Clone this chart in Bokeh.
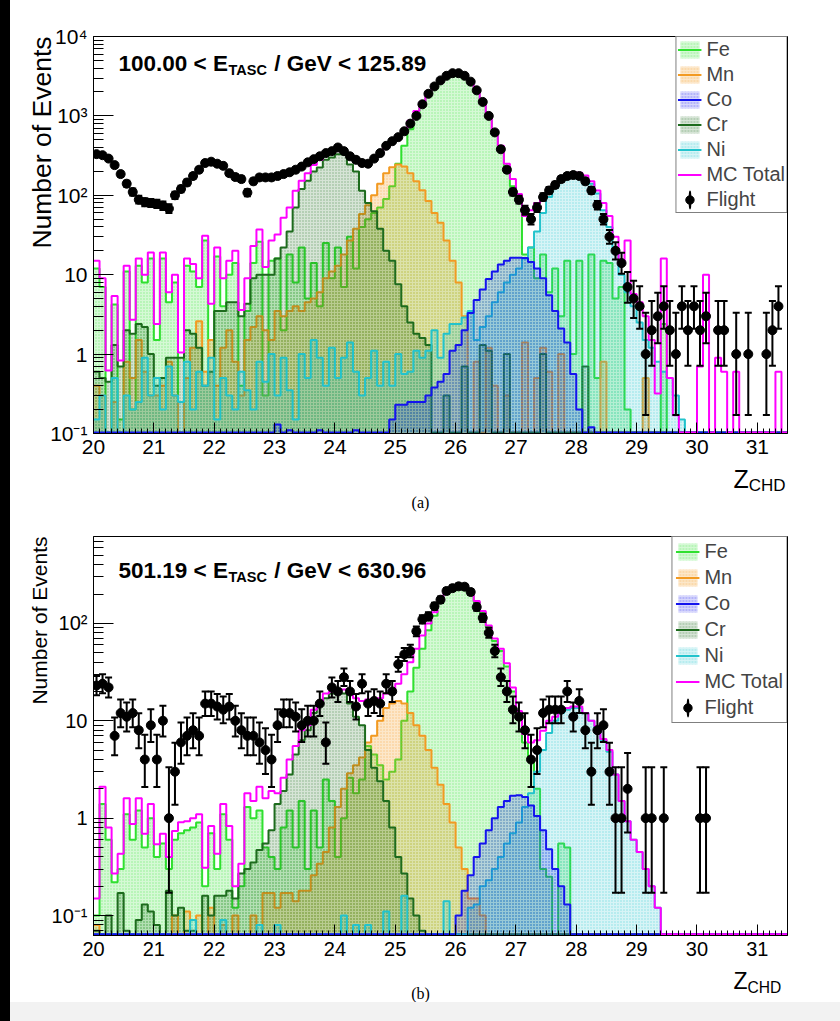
import numpy as np
from bokeh.plotting import figure
from bokeh.models import (Range1d, FixedTicker, CustomJSTickFormatter, Legend,
                          LegendItem, Label, Div, Title)
from bokeh.layouts import row, column
from bokeh.embed import file_html
from bokeh.resources import INLINE

# ---------------- binning (Z_CHD) ----------------
Z_MIN, Z_MAX, N_BINS = 20.0, 31.5, 115
X_TICKS = list(range(20, 32))

# ---------------- panel (a): 100.00 < E_TASC/GeV < 125.89 ----------------
FE_A = [12, 7, 0.1, 4.2, 0.15, 11, 0.2, 13, 8, 16,
        1.5, 16, 4.5, 8, 0.1, 13, 11, 7, 27, 1.5,
        17, 4, 10, 14, 0.4, 3.5, 14, 26, 0.3, 15,
        16, 2, 18, 8, 22, 5, 14, 4, 25, 9,
        22, 7, 30, 12, 40, 50, 60, 70, 90, 130,
        250, 420, 680, 960, 1300, 1800, 2300, 2750, 3150, 3400,
        3400, 3200, 2700, 2050, 1450, 960, 620, 380, 220, 130,
        90, 18, 22, 9, 18, 6, 12, 3, 15, 1,
        15, 0, 18, 0.5, 15, 14, 5, 7, 0.2, 0,
        0, 0, 0, 0, 2.4, 0, 0, 0, 0, 0,
        0, 0, 0, 0, 0, 0, 0, 0, 0, 0,
        0, 0, 0, 0, 0]
MN_A = [0.4, 0.3, 0.1, 0.25, 0.1, 0.8, 0.5, 1.5, 0.6, 0.3,
        0.3, 0.4, 0.8, 0.3, 0.1, 0.5, 1.2, 2.6, 0.6, 1.5,
        0.4, 1.2, 2, 0.8, 0.3, 1.5, 2.2, 3, 2, 1.5,
        3.5, 3, 3.5, 4, 3.5, 4.5, 5, 6, 9, 11,
        13, 18, 27, 38, 58, 75, 100, 140, 190, 225,
        245, 230, 190, 150, 116, 85, 60, 45, 27, 15,
        8, 3, 0, 0.8, 0, 1.2, 0.4, 0, 0.3, 0,
        0, 1.4, 0, 0.5, 1.2, 0.6, 0, 1.0, 0, 0,
        0, 0, 0, 0, 0.8, 0, 0, 0, 0, 0,
        0, 0.5, 0, 0, 0, 0, 0, 0, 0, 0,
        0, 0, 0, 0, 0, 0, 0, 0, 0, 0,
        0, 0, 0, 0, 0]
CO_A = [0, 0, 0, 0, 0, 0, 0, 0, 0, 0,
        0, 0, 0, 0, 0, 0, 0, 0, 0, 0,
        0, 0, 0, 0, 0, 0, 0, 0, 0, 0,
        0.13, 0, 0.11, 0, 0, 0, 0, 0.11, 0, 0,
        0, 0, 0, 0.11, 0.1, 0, 0, 0, 0, 0.15,
        0.23, 0.23, 0.25, 0.25, 0.25, 0.3, 0.38, 0.45, 0.56, 1.1,
        1.3, 2.0, 3.3, 4.8, 6.5, 8.8, 11, 13.4, 15, 16.4,
        16.4, 16.2, 14.5, 12, 9, 5.5, 3.5, 2.1, 1.4, 0.56,
        0.2, 0, 0.12, 0, 0, 0, 0, 0, 0, 0,
        0, 0, 0, 0, 0, 0, 0, 0, 0, 0,
        0, 0, 0, 0, 0, 0, 0, 0, 0, 0,
        0, 0, 0, 0, 0]
CR_A = [0.6, 0.5, 0.45, 1.3, 0.7, 2, 1.8, 2.4, 2.2, 1.0,
        0.4, 0.5, 0.9, 0.9, 0.9, 2, 1.8, 1.2, 0.4, 0.6,
        3.5, 3.5, 4.5, 4.5, 3, 4.3, 9, 10, 10, 10,
        16, 22, 35, 70, 120, 152, 200, 224, 280, 300,
        330, 330, 245, 200, 114, 80, 63, 38, 20, 15,
        7.6, 4, 2.5, 1.8, 1.6, 1.3, 0.1, 0, 0.3, 0,
        0, 0.7, 0, 0, 1.3, 1.1, 0, 0, 1.0, 0,
        0, 0, 0, 0, 1.0, 0, 0, 0, 0, 0,
        0, 0.7, 0, 0, 0, 0, 0, 0, 0, 0,
        0, 0, 0, 0, 0, 0, 0, 0, 0, 0,
        0, 0, 0, 0, 0, 0, 0, 0, 0, 0,
        0, 0, 0, 0, 0]
NI_A = [0.15, 0.3, 0.1, 0.5, 0.1, 0.3, 0.2, 0.25, 0.9, 0.3,
        0.5, 0.2, 0.7, 0.3, 0.25, 0.8, 0.2, 0.6, 0.4, 0.9,
        0.15, 0.5, 0.3, 0.2, 0.6, 0.35, 0.2, 0.8, 0.45, 1.0,
        0.3, 0.9, 0.35, 0.15, 1.0, 0.5, 1.5, 0.9, 0.4, 1.2,
        0.5, 0.9, 1.4, 0.6, 0.3, 0.5, 1.1, 0.4, 0.8, 0.4,
        1.0, 0.56, 0.6, 1.1, 0.9, 1.1, 2, 0.9, 1.8, 2.4,
        2.4, 2.9, 3.5, 1.5, 2.2, 3, 4.5, 6, 8, 10,
        12, 16, 22, 35, 60, 95, 125, 150, 165, 175,
        178, 165, 140, 105, 65, 40, 20, 10, 6, 4,
        2.5, 1.5, 1.2, 0.8, 0.6, 0.5, 0.3, 0.15, 0, 0,
        0, 0, 0, 0, 0, 0, 0, 0, 0, 0,
        0, 0, 0, 0, 0]
MC_A = [15, 9, 0.62, 5.4, 0.83, 13, 2.7, 16, 10, 19,
        2.4, 19, 6, 10, 1.05, 16, 13.6, 9, 31, 4.3,
        22, 9, 15, 20, 3.6, 9, 23, 37, 12.5, 27,
        32, 52, 70, 114, 152, 190, 240, 280, 320, 350,
        370, 360, 320, 290, 265, 265, 290, 330, 400, 480,
        560, 680, 870, 1150, 1500, 1950, 2400, 2850, 3250, 3450,
        3450, 3250, 2750, 2100, 1500, 1000, 650, 420, 250, 160,
        104, 55, 65, 80, 100, 120, 145, 165, 180, 190,
        192, 178, 150, 115, 80, 55, 30, 14, 27, 5.7,
        4.5, 3, 1.5, 0.32, 16, 0.5, 0.17, 0, 0, 0,
        0.7, 10, 0, 0.9, 0.6, 0, 0.6, 0, 0, 0,
        0, 0, 0, 0.6, 0]
FLIGHT_A = [330, 320, 290, 240, 185, 140, 110, 88, 82, 80,
            78, 74, 68, 100, 120, 145, 175, 210, 255, 265,
            250, 235, 190, 170, 160, 108, 150, 168, 168, 168,
            175, 185, 195, 210, 230, 260, 285, 310, 340, 360,
            400, 360, 310, 280, 255, 250, 290, 340, 420, 480,
            540, 640, 800, 1000, 1400, 1900, 2350, 2800, 3200, 3450,
            3450, 3200, 2700, 2100, 1500, 1000, 620, 380, 210, 110,
            88, 65, 50, 70, 95, 115, 135, 160, 175, 180,
            175, 150, 115, 75, 50, 30, 20, 14, 7, 5,
            4, 1, 2, 3, 4, 2, 1, 4, 2, 4,
            2, 3, 0, 2, 2, 0, 1, 0, 1, 0,
            0, 1, 2, 4, 0]

# ---------------- panel (b): 501.19 < E_TASC/GeV < 630.96 ----------------
FE_B = [0.1, 1.4, 0.6, 0.22, 0.3, 1.1, 0.6, 1.2, 0.5, 1.0,
        0.4, 0.55, 0.3, 0.6, 0.7, 0.75, 0.8, 0.9, 0.2, 0.7,
        0.3, 1.1, 0.6, 0.12, 0.2, 1.3, 1.0, 1.2, 0.5, 0.4,
        0.3, 0.8, 1.2, 0.5, 1.5, 0.3, 1.2, 0.5, 2.5, 1.5,
        0.4, 1.0, 2.6, 1.8, 2.5, 5.5, 4.5, 3.5, 2.5, 3,
        4, 10, 20, 35, 55, 85, 120, 165, 205, 232,
        242, 242, 212, 166, 130, 92, 66, 52, 36, 20,
        11, 6, 4, 2, 0.3, 0.25, 0, 0.55, 0.5, 0,
        0, 0, 0, 0, 0, 0, 0, 0, 0, 0,
        0, 0, 0, 0, 0, 0, 0, 0, 0, 0,
        0, 0, 0, 0, 0, 0, 0, 0, 0, 0,
        0, 0, 0, 0, 0]
MN_B = [0.08, 0, 0, 0, 0, 0, 0, 0, 0, 0,
        0, 0, 0, 0.1, 0, 0.11, 0, 0.1, 0, 0.12,
        0, 0.08, 0, 0.1, 0, 0, 0.1, 0, 0.17, 0.17,
        0.12, 0.17, 0.17, 0.14, 0.18, 0.18, 0.26, 0.34, 0.45, 0.8,
        1.3, 2.0, 2.9, 3.5, 4.2, 6, 7, 10, 13.5, 15,
        16, 15, 12, 9, 7, 5, 3.3, 2.2, 1.4, 0.9,
        0.5, 0.3, 0.15, 0.15, 0.1, 0, 0, 0, 0, 0,
        0, 0, 0, 0, 0, 0, 0, 0, 0, 0,
        0, 0, 0, 0, 0, 0, 0, 0, 0, 0,
        0, 0, 0, 0, 0, 0, 0, 0, 0, 0,
        0, 0, 0, 0, 0, 0, 0, 0, 0, 0,
        0, 0, 0, 0, 0]
CO_B = [0, 0, 0, 0, 0, 0, 0, 0, 0, 0,
        0, 0, 0, 0, 0, 0, 0, 0, 0, 0,
        0, 0, 0, 0, 0, 0, 0, 0, 0, 0,
        0, 0, 0, 0, 0, 0, 0, 0, 0, 0,
        0, 0, 0, 0, 0, 0, 0, 0, 0, 0,
        0, 0, 0, 0, 0, 0, 0, 0, 0, 0,
        0.1, 0.18, 0.26, 0.4, 0.55, 0.75, 1.0, 1.3, 1.5, 1.7,
        1.72, 1.65, 1.35, 1.05, 0.75, 0.48, 0.3, 0.2, 0.13, 0,
        0, 0, 0, 0, 0, 0, 0, 0, 0, 0,
        0, 0, 0, 0, 0, 0, 0, 0, 0, 0,
        0, 0, 0, 0, 0, 0, 0, 0, 0, 0,
        0, 0, 0, 0, 0]
CR_B = [0.07, 0, 0.1, 0, 0.17, 0.07, 0, 0.09, 0.13, 0.11,
        0.08, 0, 0.18, 0.1, 0.12, 0.07, 0.07, 0, 0.16, 0.1,
        0.16, 0.16, 0.18, 0.15, 0.27, 0.3, 0.35, 0.47, 0.55, 0.75,
        1.4, 1.9, 2.8, 4.5, 6.3, 8, 12, 15, 17, 19,
        20, 19, 15, 11, 9, 5, 3.3, 2.4, 1.5, 0.8,
        0.4, 0.27, 0.15, 0.1, 0.07, 0, 0, 0, 0, 0,
        0, 0, 0, 0, 0, 0, 0, 0, 0, 0,
        0, 0, 0, 0, 0, 0, 0, 0, 0, 0,
        0, 0, 0, 0, 0, 0, 0, 0, 0, 0,
        0, 0, 0, 0, 0, 0, 0, 0, 0, 0,
        0, 0, 0, 0, 0, 0, 0, 0, 0, 0,
        0, 0, 0, 0, 0]
NI_B = [0, 0, 0, 0, 0, 0, 0, 0, 0, 0,
        0, 0, 0, 0, 0, 0, 0.09, 0, 0, 0,
        0, 0.09, 0, 0, 0, 0, 0, 0.08, 0, 0,
        0.08, 0, 0, 0, 0, 0, 0, 0, 0, 0,
        0, 0.1, 0, 0.08, 0, 0.08, 0, 0, 0.11, 0,
        0, 0.16, 0, 0, 0, 0, 0, 0, 0.14, 0,
        0, 0, 0.12, 0.13, 0.2, 0.23, 0.3, 0.4, 0.55, 0.7,
        0.9, 1.3, 1.8, 3, 5, 7.5, 10, 12, 13, 13.5,
        13.5, 12, 10, 8.5, 6.3, 4.8, 2.8, 1.5, 0.93, 0.6,
        0.45, 0.3, 0.2, 0.12, 0, 0, 0, 0, 0, 0,
        0, 0, 0, 0, 0, 0, 0, 0, 0, 0,
        0, 0, 0, 0, 0]
MC_B = [0.15, 2.1, 0.8, 0.27, 0.43, 1.6, 0.87, 1.6, 0.69, 1.4,
        0.54, 0.69, 0.4, 0.74, 0.91, 0.93, 1.0, 1.1, 0.31, 0.83,
        0.43, 1.4, 0.83, 0.2, 0.34, 1.8, 1.5, 2.1, 1.6, 1.9,
        1.8, 2.6, 4, 5.5, 8, 9, 13, 15.5, 19, 20,
        21, 21, 19, 17, 16, 16.5, 16, 17, 19, 21,
        24, 30, 40, 55, 75, 100, 130, 170, 210, 235,
        245, 245, 215, 170, 134, 95, 70, 55, 39, 22,
        12.6, 7.3, 6, 6.3, 7.9, 10, 11, 12.5, 13.5, 14,
        14, 12, 10, 8.8, 6.5, 5, 2.8, 1.5, 0.93, 0.6,
        0.45, 0.3, 0.2, 0.12, 0, 0, 0, 0, 0, 0,
        0, 0, 0, 0, 0, 0, 0, 0, 0, 0,
        0, 0, 0, 0, 0]
FLIGHT_B = [23, 24, 22, 7, 12, 11, 12, 8, 4, 9,
            4, 10, 1, 3, 6, 7, 8, 7, 15, 15,
            14, 13, 14, 10, 8, 7, 7, 6, 5, 4,
            9, 12, 12, 11, 9, 10, 10, 15, 6, 22,
            20, 28, 20, 14, 24, 15, 16, 15, 24, 20,
            38, 48, 52, 83, 110, 118, 150, 175, 215, 230,
            240, 238, 210, 147, 114, 80, 52, 28, 20, 13,
            11, 8, 4, 5, 12, 13, 13, 13, 20, 11,
            16, 8, 3, 8, 9, 3, 1, 1, 2, 0,
            0, 1, 1, 0, 1, 0, 0, 0, 0, 0,
            1, 1, 0, 0, 0, 0, 0, 0, 0, 0,
            0, 0, 0, 0, 0]

SERIES_ORDER = ["Fe", "Mn", "Cr", "Ni", "Co"]          # drawing order
LEGEND_ORDER = ["Fe", "Mn", "Co", "Cr", "Ni"]
STYLE = {
    "Fe": ("#2fe02f", 0.20),
    "Mn": ("#f29a22", 0.24),
    "Co": ("#1414ee", 0.17),
    "Cr": ("#1d6b1d", 0.18),
    "Ni": ("#22c3cc", 0.18),
}
MC_COLOR = "#ff00ff"
FONT = "Liberation Sans"

edges = np.linspace(Z_MIN, Z_MAX, N_BINS + 1)
centers = 0.5 * (edges[:-1] + edges[1:])


def step_xy(vals, floor):
    xs, ys = [], []
    for i, v in enumerate(vals):
        vv = max(v, floor)
        xs += [edges[i], edges[i + 1]]
        ys += [vv, vv]
    return xs, ys


def gehrels(n):
    n = np.asarray(n, float)
    up = n + np.sqrt(n + 0.75) + 1.0
    lo = n * (1 - 1 / (9 * n) - 1 / (3 * np.sqrt(n))) ** 3
    return lo, up


YFMT = CustomJSTickFormatter(code=r"""
const e = Math.round(Math.log10(tick));
if (e == 0) return "1";
if (e == 1) return "10";
const sup = {"-":"\u207B","0":"\u2070","1":"\u00B9","2":"\u00B2","3":"\u00B3",
             "4":"\u2074","5":"\u2075","6":"\u2076","7":"\u2077","8":"\u2078","9":"\u2079"};
return "10" + String(e).split("").map(c => sup[c]).join("");
""")


def label(p, x, y, s, size, bold=False, align="left", baseline="alphabetic",
          angle=0.0, font=FONT, side=None):
    lab = Label(x=x, y=y, x_units="canvas", y_units="canvas", text=s,
                text_font=font, text_font_size=f"{size}px",
                text_font_style="bold" if bold else "normal",
                text_align=align, text_baseline=baseline, angle=angle,
                text_color="black")
    if side is None:
        p.add_layout(lab)
    else:
        p.add_layout(lab, side)


# Arial/Liberation Sans Bold advance widths (per 1000 em) for the energy label
AB = {' ': 278, '/': 278, '.': 278, '<': 584, 'E': 667, 'G': 778, 'e': 556,
      'V': 667, 'T': 611, 'A': 722, 'S': 667, 'C': 722}
for d in "0123456789":
    AB[d] = 556


def twidth(s, size):
    return sum(AB[c] for c in s) * size / 1000.0


def panel(series, mc, flight, ymin, ymax, height, b_top, b_bottom, b_right,
          e_lo, e_hi, title_base, tick_size, ylab_size, ylab_standoff,
          z_base, z_size, tag, tag_y, leg_pad, leg_space):
    p = figure(width=830, height=height, x_range=Range1d(Z_MIN, Z_MAX),
               y_range=Range1d(ymin, ymax), y_axis_type="log",
               output_backend="svg", toolbar_location=None, title=None,
               min_border_left=83, min_border_right=b_right,
               min_border_top=b_top, min_border_bottom=b_bottom)
    p.background_fill_color = "white"
    p.border_fill_color = "white"
    p.outline_line_color = "black"
    p.outline_line_width = 1
    p.xgrid.visible = False
    p.ygrid.visible = False

    floor = ymin * 1.03
    rend = {}
    for name in SERIES_ORDER:
        vals = np.asarray(series[name], float)
        color, alpha = STYLE[name]
        m = vals > floor
        q = p.quad(left=edges[:-1][m], right=edges[1:][m], bottom=ymin * 0.5,
                   top=vals[m], fill_color=color, fill_alpha=alpha,
                   line_color=None, hatch_pattern="dot", hatch_color=color,
                   hatch_alpha=0.45, hatch_scale=3.0, hatch_weight=1.0)
        xs, ys = step_xy(vals, floor)
        ln = p.line(xs, ys, line_color=color, line_width=2)
        rend[name] = [q, ln]
    xs, ys = step_xy(np.asarray(mc, float), floor)
    mc_ln = p.line(xs, ys, line_color=MC_COLOR, line_width=2)

    n = np.asarray(flight, float)
    m = n > 0
    fx, fn = centers[m], n[m]
    lo, up = gehrels(fn)
    p.segment(fx, lo, fx, up, line_color="black", line_width=2)
    p.scatter(np.r_[fx, fx], np.r_[lo, up], marker="dash", size=7,
              line_color="black", line_width=2)
    pts = p.scatter(fx, fn, marker="circle", size=9, fill_color="black",
                    line_color="black")
    # off-frame thin ellipse: only used to draw the vertical error bar in the legend icon
    eb = p.ellipse(x=[20.5], y=[ymin * 1e-4], width=1, height=24,
                   width_units="screen", height_units="screen",
                   fill_color="black", line_color="black", line_width=2)

    items = [LegendItem(label=k, renderers=rend[k]) for k in LEGEND_ORDER]
    items.append(LegendItem(label="MC Total", renderers=[mc_ln]))
    items.append(LegendItem(label="Flight", renderers=[eb, pts]))
    leg = Legend(items=items, location="top_right", margin=0, padding=leg_pad,
                 spacing=leg_space, glyph_width=24, glyph_height=21,
                 label_height=21, label_standoff=5, label_text_font=FONT,
                 label_text_font_size="20px", border_line_color="black",
                 border_line_width=1, background_fill_color="white",
                 background_fill_alpha=1.0)
    p.add_layout(leg)

    # axes
    xa = p.xaxis[0]
    xa.ticker = FixedTicker(ticks=X_TICKS, minor_ticks=[round(v, 2) for v in edges])
    ya = p.yaxis[0]
    emin, emax = int(np.floor(np.log10(ymin))), int(np.ceil(np.log10(ymax)))
    majors = [10.0 ** e for e in range(emin, emax + 1) if ymin <= 10.0 ** e <= ymax]
    minors = [k * 10.0 ** e for e in range(emin, emax + 1) for k in range(2, 10)
              if ymin <= k * 10.0 ** e <= ymax]
    ya.ticker = FixedTicker(ticks=majors, minor_ticks=minors)
    ya.formatter = YFMT
    for ax, tin, tmin in ((xa, 11, 5), (ya, 20, 10)):
        ax.major_tick_in = tin
        ax.major_tick_out = 0
        ax.minor_tick_in = tmin
        ax.minor_tick_out = 0
        ax.major_tick_line_color = "black"
        ax.minor_tick_line_color = "black"
        ax.axis_line_color = "black"
        ax.major_label_text_font = FONT
        ax.major_label_text_font_size = f"{tick_size}px"
        ax.major_label_text_color = "black"
        ax.major_label_standoff = 6

    # y-axis title, top-aligned as in ROOT
    p.add_layout(Title(text="Number of Events", align="right",
                       vertical_align="bottom", text_font=FONT,
                       text_font_size=f"{ylab_size}px", text_font_style="normal",
                       text_color="black", standoff=ylab_standoff, offset=0),
                 "left")

    # energy-bin caption inside the frame
    f_main, f_sub = 22.5, 14.5
    x0 = 108
    s1 = f"{e_lo} < E"
    s3 = f"/ GeV < {e_hi}"
    label(p, x0, title_base, s1, f_main, bold=True)
    x_sub = x0 + twidth(s1, f_main) + 0.5
    label(p, x_sub, title_base + 6, "TASC", f_sub, bold=True)
    x3 = x_sub + twidth("TASC", f_sub) + twidth(" ", f_main)
    label(p, x3, title_base, s3, f_main, bold=True)

    # x-axis title Z_CHD and panel tag, in the border panels (not clipped)
    label(p, 723, z_base, "Z", z_size, side="below")
    label(p, 723 + 0.611 * z_size, z_base + 7, "CHD", round(z_size * 0.68, 1),
          side="right")
    label(p, 410, tag_y, tag, 16, align="center", baseline="middle",
          font="Liberation Serif", side="above")
    return p


fig_a = panel({"Fe": FE_A, "Mn": MN_A, "Co": CO_A, "Cr": CR_A, "Ni": NI_A},
              MC_A, FLIGHT_A, 0.1, 1.0e4, 512, 36, 79, 53,
              "100.00", "125.89", 63, 21, 26.5, -18, 478, 25, "(a)", 502, 1, 2)
fig_b = panel({"Fe": FE_B, "Mn": MN_B, "Co": CO_B, "Cr": CR_B, "Ni": NI_B},
              MC_B, FLIGHT_B, 0.0624, 780.0, 490, 24, 67, 52,
              "501.19", "630.96", 58, 20, 21, -4, 468, 23, "(b)", 481, 3, 3)

strip = Div(width=10, height=1021, margin=0, styles={"background-color": "black"})
gray = Div(width=830, height=19, margin=0, styles={"background-color": "#f2f2f2"})
layout = row(strip, column(fig_a, fig_b, gray, spacing=0), spacing=0)

open("out.html", "w").write(file_html(layout, INLINE))
